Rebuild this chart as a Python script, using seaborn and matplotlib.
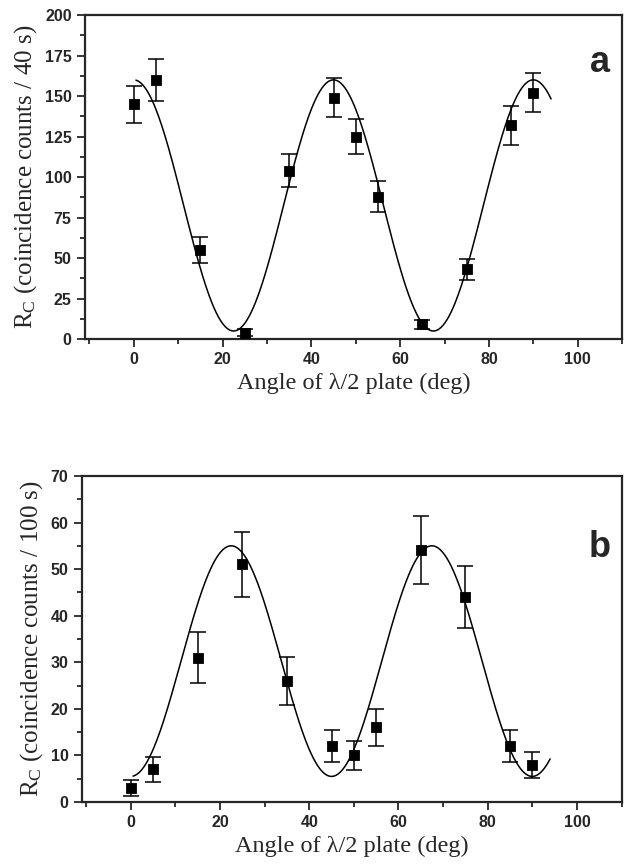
import matplotlib
matplotlib.use("Agg")
import matplotlib.pyplot as plt
import seaborn as sns
import pandas as pd
import numpy as np
from matplotlib.ticker import MultipleLocator

sns.set_style("ticks")
plt.rcParams['font.family'] = ['Liberation Sans', 'DejaVu Sans']
plt.rcParams['mathtext.fontset'] = 'custom'
plt.rcParams['mathtext.rm'] = 'Liberation Serif'
plt.rcParams['mathtext.it'] = 'Liberation Serif:italic'

# data
angle = [0, 5, 15, 25, 35, 45, 50, 55, 65, 75, 85, 90]
counts_a = [145, 160, 55, 4, 104, 149, 125, 88, 9, 43, 132, 152]
err_a = [11.5, 13, 8, 2.2, 10, 12, 11, 9.5, 3, 6.5, 12, 12]
counts_b = [3, 7, 31, 51, 26, 12, 10, 16, 54, 44, 12, 8]
err_b = [1.7, 2.6, 5.5, 7, 5.2, 3.5, 3.1, 4, 7.3, 6.6, 3.5, 2.8]

# fitted cos^2 curves (offset, amplitude), period 45 deg
fit_a = (82.5, 77.5)
fit_b = (30.25, -24.75)
theta = np.linspace(0.5, 94, 400)

def fit_curve(p, t):
    return p[0] + p[1] * np.cos(np.deg2rad(8 * t))

fig = plt.figure(figsize=(6.24, 8.65), dpi=100)
ax1 = fig.add_axes([0.136, 0.608, 0.861, 0.3746])
ax2 = fig.add_axes([0.131, 0.0728, 0.865, 0.377])

serif = ['Liberation Serif', 'DejaVu Serif']

def panel(ax, y, e, p, ylim, major, ylabel, letter, ly):
    df = pd.DataFrame({"angle": angle, "counts": y})
    fdf = pd.DataFrame({"angle": theta, "fit": fit_curve(p, theta)})
    sns.lineplot(data=fdf, x="angle", y="fit", ax=ax, color="black", lw=1.1)
    ax.errorbar(angle, y, yerr=e, fmt="none", ecolor="black", elinewidth=1.1,
                capsize=5.5, capthick=1.1)
    sns.scatterplot(data=df, x="angle", y="counts", ax=ax, marker="s", s=55,
                    color="black", edgecolor="black", zorder=5)
    ax.set_xlim(-11, 110)
    ax.set_ylim(*ylim)
    ax.xaxis.set_major_locator(MultipleLocator(20))
    ax.xaxis.set_minor_locator(MultipleLocator(10))
    ax.yaxis.set_major_locator(MultipleLocator(major))
    ax.yaxis.set_minor_locator(MultipleLocator(major / 2))
    ax.tick_params(which="major", length=6, width=1.3, labelsize=11.5)
    ax.tick_params(which="minor", length=3.5, width=1.3)
    for lab in ax.get_xticklabels() + ax.get_yticklabels():
        lab.set_fontweight("bold")
    for s in ax.spines.values():
        s.set_linewidth(1.6)
    ax.set_xlabel("Angle of λ/2 plate (deg)", family=serif, fontsize=17.5)
    ax.set_ylabel(ylabel, family=serif, fontsize=18)
    ax.text(0.959, ly, letter, transform=ax.transAxes, fontsize=26,
            fontweight="bold", ha="center", va="center")

panel(ax1, counts_a, err_a, fit_a, (0, 200), 25,
      r"R$_\mathrm{C}$ (coincidence counts / 40 s)", "a", 0.855)
panel(ax2, counts_b, err_b, fit_b, (0, 70), 10,
      r"R$_\mathrm{C}$ (coincidence counts / 100 s)", "b", 0.78)

fig.savefig("out.png", dpi=100)
